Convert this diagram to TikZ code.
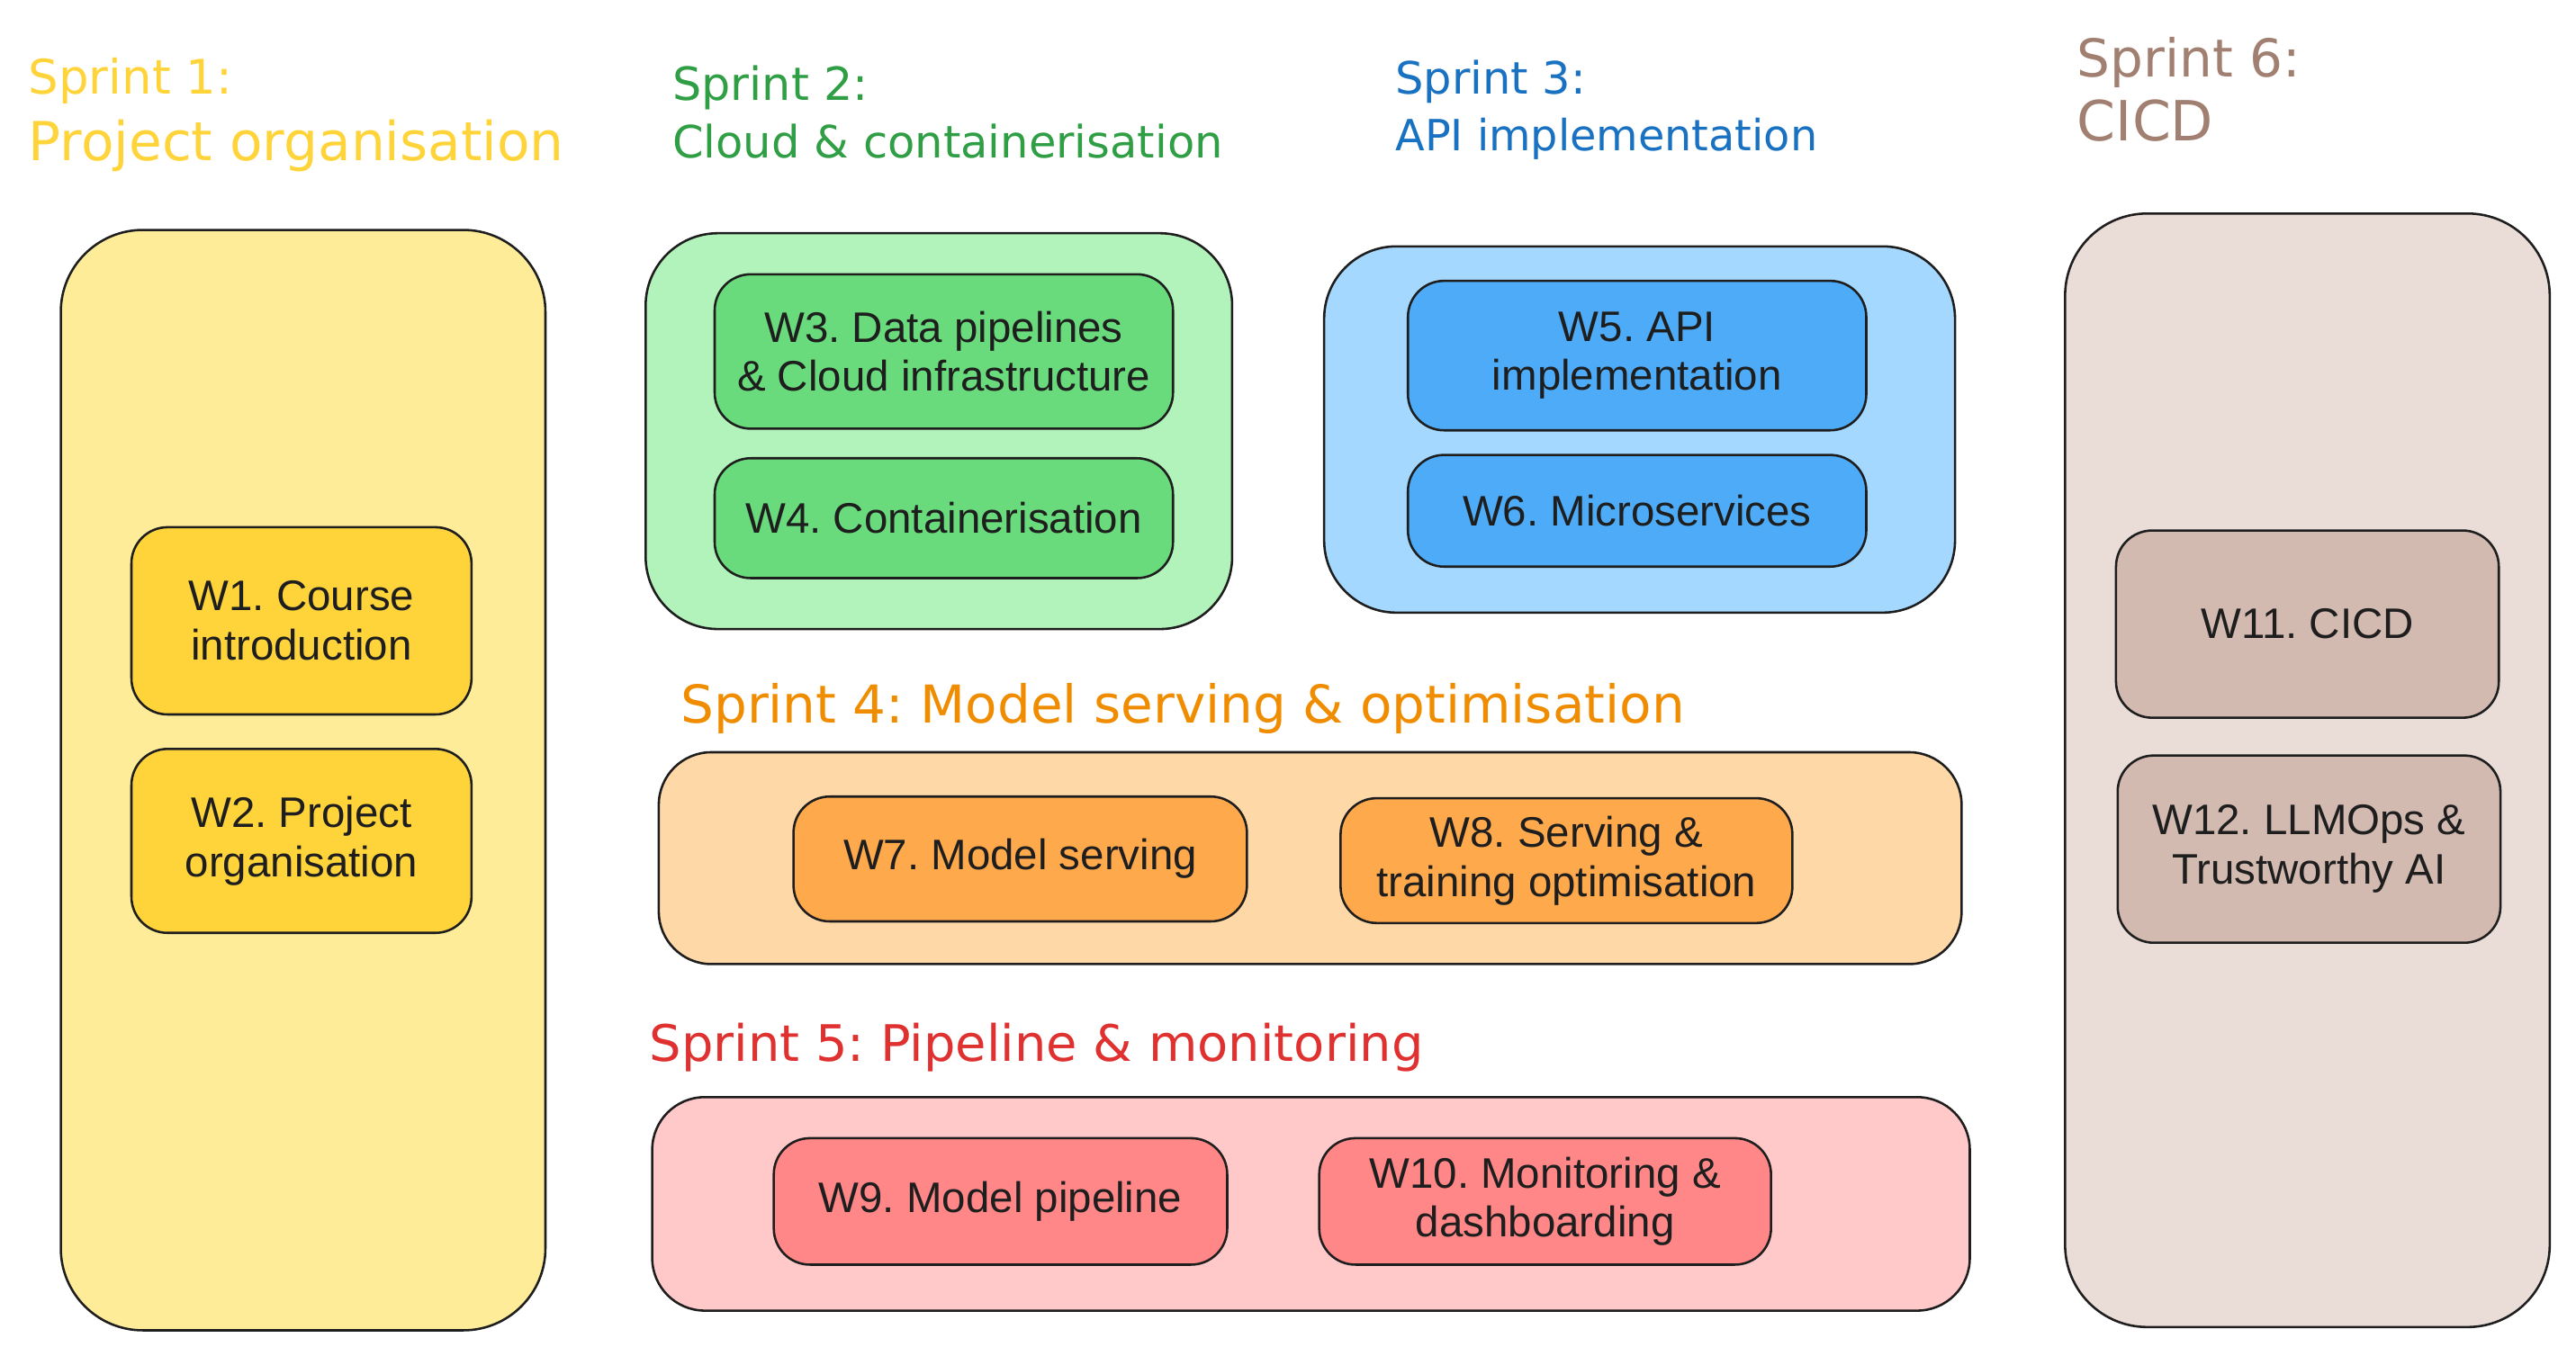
\documentclass[tikz,border=0pt]{standalone}
\usepackage{fontspec}
\setmainfont{Liberation Sans}
\newfontfamily\handfont{DejaVu Sans}
\frenchspacing
\definecolor{strokec}{HTML}{1E1E1E}
\definecolor{yelA}{HTML}{FFEC99}\definecolor{yelB}{HTML}{FFD43B}
\definecolor{grnA}{HTML}{B2F2BB}\definecolor{grnB}{HTML}{69DB7C}\definecolor{grnT}{HTML}{2F9E44}
\definecolor{bluA}{HTML}{A5D8FF}\definecolor{bluB}{HTML}{4DABF7}\definecolor{bluT}{HTML}{1971C2}
\definecolor{oraA}{HTML}{FFD8A8}\definecolor{oraB}{HTML}{FFA94D}\definecolor{oraT}{HTML}{F08C00}
\definecolor{redA}{HTML}{FFC9C9}\definecolor{redB}{HTML}{FF8787}\definecolor{redT}{HTML}{E03131}
\definecolor{brnA}{HTML}{EADDD7}\definecolor{brnB}{HTML}{D2BAB0}\definecolor{brnT}{HTML}{A18072}
\newcommand{\ttl}[2]{\resizebox{#1}{!}{#2}}
\tikzset{
  sprintbox/.style={draw=strokec, line width=0.7pt, rectangle, inner sep=0pt},
  weekbox/.style={draw=strokec, line width=0.7pt, rectangle, rounded corners=11pt, inner sep=0pt,
     align=center, font=\fontsize{13}{15}\selectfont, text=strokec},
  title/.style={anchor=base west, inner sep=0pt, font=\handfont\fontsize{16}{19}\selectfont}
}
\begin{document}
\begin{tikzpicture}[x=0.5pt,y=-0.5pt]
\useasboundingbox (0,0) rectangle (1568,825.6);
% Sprint 1
\node[sprintbox, fill=yelA, rounded corners=25pt, minimum width=147.5pt, minimum height=335pt] (s1) at (184.5,475) {};
\node[weekbox, fill=yelB, minimum width=103.5pt, minimum height=57pt] (w1) at (183.5,378) {W1. Course\\introduction};
\node[weekbox, fill=yelB, minimum width=103.5pt, minimum height=56pt] (w2) at (183.5,512) {W2. Project\\organisation};
\node[title, text=yelB] (t1a) at (17,57) {\ttl{62pt}{Sprint 1:}};
\node[title, text=yelB] (t1b) at (17,98) {\ttl{163pt}{Project organisation}};
% Sprint 2
\node[sprintbox, fill=grnA, rounded corners=22pt, minimum width=178.5pt, minimum height=120.5pt] (s2) at (571.5,262.5) {};
\node[weekbox, fill=grnB, minimum width=139.5pt, minimum height=47pt] (w3) at (574.5,214) {W3. Data pipelines\\\& Cloud infrastructure};
\node[weekbox, fill=grnB, minimum width=139.5pt, minimum height=36.5pt] (w4) at (574.5,315.5) {W4. Containerisation};
\node[title, text=grnT] (t2a) at (409,61) {\ttl{59.5pt}{Sprint 2:}};
\node[title, text=grnT] (t2b) at (409,96) {\ttl{167.5pt}{Cloud \& containerisation}};
% Sprint 3
\node[sprintbox, fill=bluA, rounded corners=22pt, minimum width=192pt, minimum height=111.5pt] (s3) at (998,261.5) {};
\node[weekbox, fill=bluB, minimum width=139.5pt, minimum height=45.5pt] (w5) at (996.5,216.5) {W5. API\\implementation};
\node[weekbox, fill=bluB, minimum width=139.5pt, minimum height=34pt] (w6) at (996.5,311) {W6. Microservices};
\node[title, text=bluT] (t3a) at (849,57) {\ttl{58pt}{Sprint 3:}};
\node[title, text=bluT] (t3b) at (849,92) {\ttl{128.5pt}{API implementation}};
% Sprint 4
\node[sprintbox, fill=oraA, rounded corners=16pt, minimum width=396.5pt, minimum height=64.5pt] (s4) at (797.5,522.5) {};
\node[weekbox, fill=oraB, minimum width=138pt, minimum height=38pt] (w7) at (621,523) {W7. Model serving};
\node[weekbox, fill=oraB, minimum width=137.5pt, minimum height=38pt] (w8) at (953.5,524) {W8. Serving \&\\training optimisation};
\node[title, text=oraT] (t4) at (414,440) {\ttl{305.5pt}{Sprint 4: Model serving \& optimisation}};
% Sprint 5
\node[sprintbox, fill=redA, rounded corners=16pt, minimum width=401pt, minimum height=65pt] (s5) at (798,733) {};
\node[weekbox, fill=redB, minimum width=138pt, minimum height=38.5pt] (w9) at (609,731.5) {W9. Model pipeline};
\node[weekbox, fill=redB, minimum width=137.5pt, minimum height=38.5pt] (w10) at (940.5,731.5) {W10. Monitoring \&\\dashboarding};
\node[title, text=redT] (t5) at (395,646) {\ttl{235.5pt}{Sprint 5: Pipeline \& monitoring}};
% Sprint 6
\node[sprintbox, fill=brnA, rounded corners=25pt, minimum width=147.5pt, minimum height=339pt] (s6) at (1404.5,469) {};
\node[weekbox, fill=brnB, minimum width=116.5pt, minimum height=57pt] (w11) at (1404.5,380) {W11. CICD};
\node[weekbox, fill=brnB, minimum width=116.5pt, minimum height=57pt] (w12) at (1405.5,517) {W12. LLMOps \&\\Trustworthy AI};
\node[title, text=brnT] (t6a) at (1264,47) {\ttl{68pt}{Sprint 6:}};
\node[title, text=brnT] (t6b) at (1264,86) {\ttl{41.5pt}{CICD}};
\end{tikzpicture}
\end{document}
